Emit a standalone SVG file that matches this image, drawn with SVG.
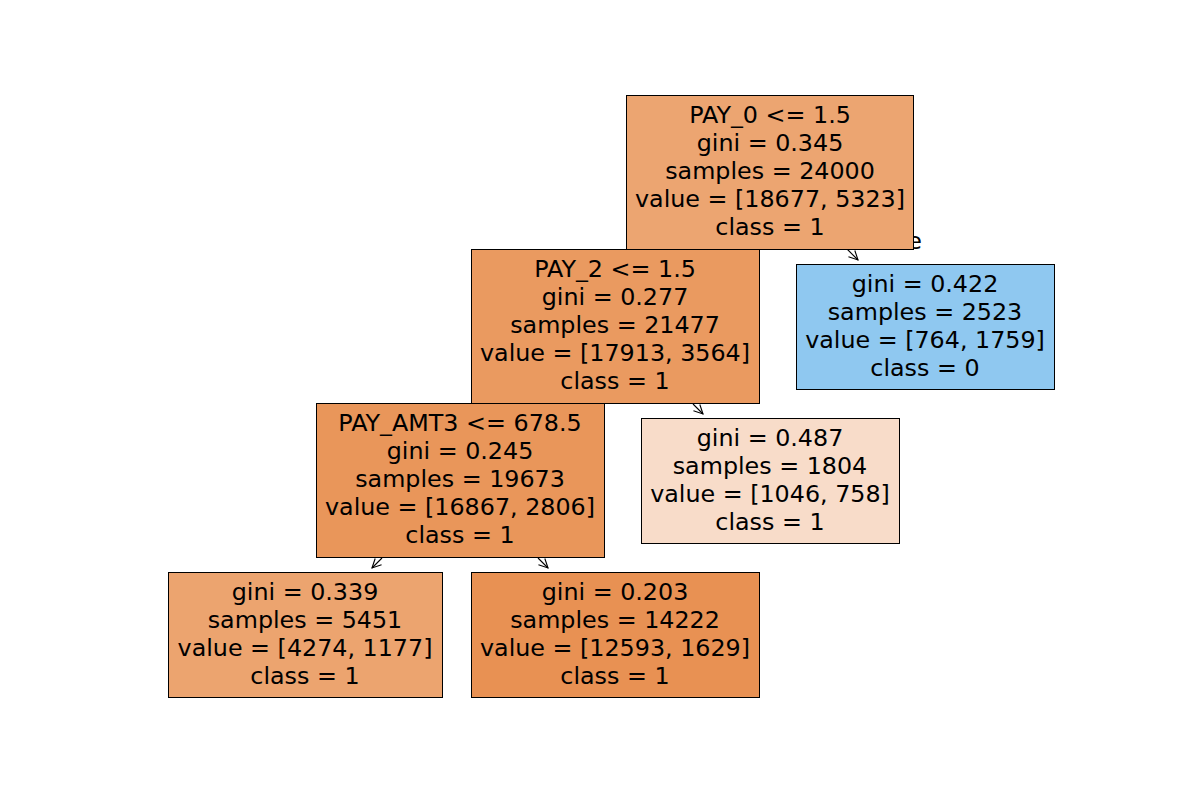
<svg xmlns="http://www.w3.org/2000/svg" width="1200" height="800" viewBox="0 0 1200 800">
<defs>
<style>
.box{stroke:#000;stroke-width:1}
text{font-family:"DejaVu Sans","Liberation Sans",sans-serif;font-size:23.8px;fill:#000;text-anchor:middle}
.edge{stroke:#000;stroke-width:1.1;fill:none}
</style>
<marker id="ah" markerWidth="12" markerHeight="12" refX="10" refY="5" orient="auto" markerUnits="userSpaceOnUse">
<path d="M1,0.5 L10,5 L1,9.5" fill="none" stroke="#000" stroke-width="1.1"/>
</marker>
</defs>
<rect width="1200" height="800" fill="#fff"/>
<text x="922" y="249" style="text-anchor:end">False</text>
<g id="connectors">
<line class="edge" x1="770" y1="172" x2="858" y2="260" marker-end="url(#ah)"/>
<line class="edge" x1="693" y1="404" x2="703" y2="414" marker-end="url(#ah)"/>
<line class="edge" x1="382" y1="558" x2="372" y2="568" marker-end="url(#ah)"/>
<line class="edge" x1="538" y1="558" x2="548" y2="568" marker-end="url(#ah)"/>
</g>
<g id="leaf-339">
<rect class="box" x="168.5" y="572.5" width="274" height="125" fill="#eca46f"/>
<text x="305" y="600">gini = 0.339</text>
<text x="305" y="628">samples = 5451</text>
<text x="305" y="656">value = [4274, 1177]</text>
<text x="305" y="684">class = 1</text>
</g>
<g id="leaf-203">
<rect class="box" x="471.5" y="572.5" width="288" height="125" fill="#e89153"/>
<text x="615" y="600">gini = 0.203</text>
<text x="615" y="628">samples = 14222</text>
<text x="615" y="656">value = [12593, 1629]</text>
<text x="615" y="684">class = 1</text>
</g>
<g id="leaf-487">
<rect class="box" x="641.5" y="418.5" width="258" height="125" fill="#f8dcc9"/>
<text x="770" y="446">gini = 0.487</text>
<text x="770" y="474">samples = 1804</text>
<text x="770" y="502">value = [1046, 758]</text>
<text x="770" y="530">class = 1</text>
</g>
<g id="node-payamt3">
<rect class="box" x="316.5" y="403.5" width="288" height="154" fill="#e9965a"/>
<text x="460" y="431">PAY_AMT3 &lt;= 678.5</text>
<text x="460" y="459">gini = 0.245</text>
<text x="460" y="487">samples = 19673</text>
<text x="460" y="515">value = [16867, 2806]</text>
<text x="460" y="543">class = 1</text>
</g>
<g id="leaf-422">
<rect class="box" x="796.5" y="264.5" width="258" height="125" fill="#8fc8f0"/>
<text x="925" y="292">gini = 0.422</text>
<text x="925" y="320">samples = 2523</text>
<text x="925" y="348">value = [764, 1759]</text>
<text x="925" y="376">class = 0</text>
</g>
<g id="node-pay2">
<rect class="box" x="471.5" y="249.5" width="288" height="154" fill="#ea9a60"/>
<text x="615" y="277">PAY_2 &lt;= 1.5</text>
<text x="615" y="305">gini = 0.277</text>
<text x="615" y="333">samples = 21477</text>
<text x="615" y="361">value = [17913, 3564]</text>
<text x="615" y="389">class = 1</text>
</g>
<g id="node-root">
<rect class="box" x="626.5" y="95.5" width="287" height="154" fill="#eca571"/>
<text x="770" y="123">PAY_0 &lt;= 1.5</text>
<text x="770" y="151">gini = 0.345</text>
<text x="770" y="179">samples = 24000</text>
<text x="770" y="207">value = [18677, 5323]</text>
<text x="770" y="235">class = 1</text>
</g>
</svg>
